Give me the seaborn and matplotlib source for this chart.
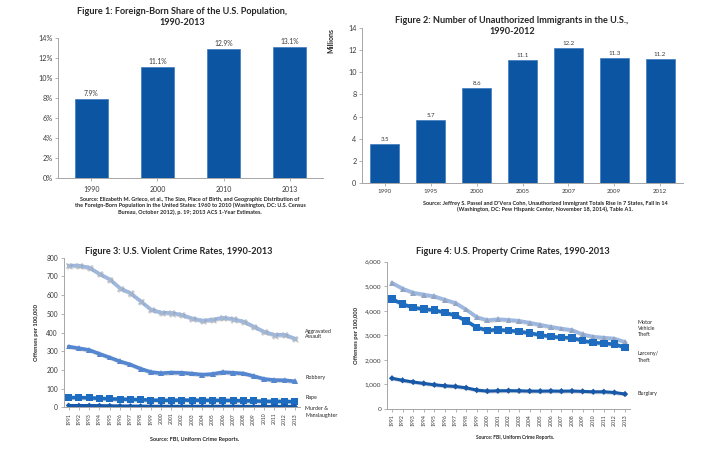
import numpy as np
import pandas as pd
import matplotlib
matplotlib.use("Agg")
import matplotlib.pyplot as plt
import matplotlib.patheffects as pe
from matplotlib.ticker import FuncFormatter, MultipleLocator
import seaborn as sns

# ---------------- data ----------------
fb_years = ["1990", "2000", "2010", "2013"]
fb_share = [7.9, 11.1, 12.9, 13.1]

ui_years = ["1990", "1995", "2000", "2005", "2007", "2009", "2012"]
ui_millions = [3.5, 5.7, 8.6, 11.1, 12.2, 11.3, 11.2]

crime_years = list(range(1991, 2014))
# Figure 3 (lines as plotted, cumulative)
aggravated = [758.2, 757.7, 747.1, 713.6, 684.5, 636.6, 611.0, 567.6, 523.0, 506.5, 504.5, 494.4,
              475.8, 463.2, 469.0, 479.3, 471.8, 458.6, 431.9, 404.5, 387.1, 387.8, 367.9]
robbery = [324.8, 315.8, 306.6, 286.1, 266.2, 245.6, 228.9, 206.3, 188.6, 182.5, 185.9, 184.8,
           180.5, 174.6, 178.2, 188.0, 184.6, 181.1, 167.2, 151.8, 145.6, 144.9, 138.8]
rape = [52.1, 52.1, 50.6, 48.3, 45.3, 43.7, 42.7, 40.8, 38.5, 37.5, 37.4, 38.7,
        38.0, 37.9, 37.4, 37.4, 36.3, 35.2, 34.1, 32.5, 31.7, 31.8, 29.7]
murder = [9.8, 9.3, 9.5, 9.0, 8.2, 7.4, 6.8, 6.3, 5.7, 5.5, 5.6, 5.6,
          5.7, 5.5, 5.6, 5.8, 5.7, 5.4, 5.0, 4.8, 4.7, 4.7, 4.5]
# Figure 4 (lines as plotted, cumulative)
motor_vehicle = [5140, 4904, 4740, 4660, 4591, 4451, 4316, 4053, 3744, 3618, 3658, 3631,
                 3591, 3514, 3432, 3347, 3276, 3215, 3041, 2946, 2905, 2868, 2731]
larceny = [4481, 4272, 4134, 4069, 4030, 3925, 3811, 3593, 3321, 3206, 3228, 3198,
           3158, 3093, 3015, 2954, 2912, 2899, 2782, 2707, 2676, 2638, 2509]
burglary = [1252, 1168, 1100, 1042, 987, 945, 919, 863, 770, 729, 742, 747,
            741, 730, 727, 733, 726, 733, 718, 701, 702, 672, 610]

# ---------------- style ----------------
sns.set_theme(style="white")
plt.rcParams["font.family"] = ["Lato", "DejaVu Sans"]
TXT = "#262626"
TICK = "#3A3A3A"
SPINE = "#A6A6A6"
BAR = "#0B55A2"

W, H = 721, 451
fig = plt.figure(figsize=(W / 100, H / 100), dpi=100)
fig.patch.set_facecolor("white")


def box(l, t, r, b):
    return [l / W, 1 - b / H, (r - l) / W, (b - t) / H]


def ftext(x, y, s, **kw):
    fig.text(x / W, 1 - y / H, s, **kw)


def style_axes(ax, ysize, xsize):
    sns.despine(ax=ax)
    for sp in ("left", "bottom"):
        ax.spines[sp].set_color(SPINE)
        ax.spines[sp].set_linewidth(0.7)
    ax.tick_params(axis="both", which="both", length=2, width=0.6, color=SPINE,
                   colors=TICK, pad=2)
    ax.tick_params(axis="y", labelsize=ysize, left=True)
    ax.tick_params(axis="x", labelsize=xsize, bottom=True)
    ax.grid(False)


TITLE = 6.6
SRC = 4.0

# ---------- Figure 1 ----------
ax1 = fig.add_axes(box(58, 37.7, 323, 177.7))
df1 = pd.DataFrame({"year": fb_years, "share": fb_share})
sns.barplot(data=df1, x="year", y="share", color=BAR, width=0.5, ax=ax1,
            saturation=1, edgecolor="#3C79BD", linewidth=0.5)
ax1.set_ylim(0, 14)
ax1.set_xlim(-0.5, 3.5)
ax1.yaxis.set_major_locator(MultipleLocator(2))
ax1.yaxis.set_major_formatter(FuncFormatter(lambda v, p: f"{v:.0f}%"))
ax1.set_xlabel("")
ax1.set_ylabel("")
style_axes(ax1, 5.2, 5.0)
ax1.tick_params(axis="x", pad=4)
ax1.bar_label(ax1.containers[0], fmt="%.1f%%", fontsize=4.9, color=TICK, padding=1.5)
ftext(182, 17, "Figure 1: Foreign-Born Share of the U.S. Population,\n1990-2013",
      ha="center", va="center", fontsize=TITLE, fontweight="bold", color=TXT, linespacing=1.2)
ftext(190, 206, "Source: Elizabeth M. Grieco, et al., The Size, Place of Birth, and Geographic Distribution of\n"
      "the Foreign-Born Population in the United States: 1960 to 2010 (Washington, DC: U.S. Census\n"
      "Bureau, October 2012), p. 19; 2013 ACS 1-Year Estimates.",
      ha="center", va="center", fontsize=SRC, fontweight="bold", color=TXT, linespacing=1.2)

# ---------- Figure 2 ----------
ax2 = fig.add_axes(box(362, 28, 683, 183))
df2 = pd.DataFrame({"year": ui_years, "millions": ui_millions})
sns.barplot(data=df2, x="year", y="millions", color=BAR, width=0.63, ax=ax2,
            saturation=1, edgecolor="#3C79BD", linewidth=0.5)
ax2.set_ylim(0, 14)
ax2.set_xlim(-0.5, 6.5)
ax2.yaxis.set_major_locator(MultipleLocator(2))
ax2.set_xlabel("")
ax2.set_ylabel("Millions", loc="top", fontsize=5.0, fontweight="bold", color=TXT, labelpad=10)
style_axes(ax2, 5.2, 4.4)
ax2.bar_label(ax2.containers[0], fmt="%.1f", fontsize=4.4, color=TICK, padding=1.5)
ftext(512, 26, "Figure 2: Number of Unauthorized Immigrants in the U.S.,\n1990-2012",
      ha="center", va="center", fontsize=TITLE, fontweight="bold", color=TXT, linespacing=1.2)
ftext(545, 206.5, "Source: Jeffrey S. Passel and D'Vera Cohn, Unauthorized Immigrant Totals Rise in 7 States, Fall in 14\n"
      "(Washington, DC: Pew Hispanic Center, November 18, 2014), Table A1.",
      ha="center", va="center", fontsize=SRC, fontweight="bold", color=TXT, linespacing=1.2)

shadow = [pe.SimpleLineShadow(offset=(0.7, -0.7), shadow_color="#808080", alpha=0.35), pe.Normal()]


def crime_line(ax, values, color, marker, ms, mcolor=None, lw=2.6):
    d = pd.DataFrame({"year": crime_years, "v": values})
    sns.lineplot(data=d, x="year", y="v", ax=ax, color=color, lw=lw, marker=marker,
                 markersize=ms, markeredgewidth=1.0 if marker == "x" else 0,
                 markerfacecolor=mcolor or color, markeredgecolor=mcolor or color,
                 path_effects=shadow)


# ---------- Figure 3 ----------
ax3 = fig.add_axes(box(63.5, 257.7, 300, 407.3))
crime_line(ax3, aggravated, "#9DB8E0", "x", 3.8, mcolor="#A9B8CF")
crime_line(ax3, robbery, "#5587D0", "^", 4.2)
crime_line(ax3, rape, "#1E6CC0", "s", 5.0)
crime_line(ax3, murder, "#1858A8", "D", 3.0, lw=2.2)
ax3.set_xlim(1990.5, 2013.5)
ax3.set_ylim(0, 800)
ax3.yaxis.set_major_locator(MultipleLocator(100))
ax3.set_xticks(crime_years)
ax3.set_xticklabels([str(y) for y in crime_years], rotation=90)
ax3.set_xlabel("")
ax3.set_ylabel("Offenses per 100,000", fontsize=4.2, fontweight="bold", color=TXT, labelpad=5)
style_axes(ax3, 4.8, 3.7)
ftext(179, 251, "Figure 3: U.S. Violent Crime Rates, 1990-2013",
      ha="center", va="center", fontsize=TITLE, fontweight="bold", color=TXT)
for y, s in [(334, "Aggravated\nAssault"), (378, "Robbery"), (398, "Rape"), (412, "Murder &\nManslaughter")]:
    ftext(305, y, s, ha="left", va="center", fontsize=3.9, color=TXT, linespacing=1.25)
ftext(195, 439, "Source: FBI, Uniform Crime Reports.",
      ha="center", va="center", fontsize=SRC, fontweight="bold", color=TXT)

# ---------- Figure 4 ----------
ax4 = fig.add_axes(box(386.7, 261.7, 630.3, 409))
crime_line(ax4, motor_vehicle, "#9DB8E0", "^", 4.2, mcolor="#93A5C4")
crime_line(ax4, larceny, "#1E6CC0", "s", 5.4)
crime_line(ax4, burglary, "#1858A8", "D", 3.2, lw=2.2)
ax4.set_xlim(1990.5, 2013.5)
ax4.set_ylim(0, 6000)
ax4.yaxis.set_major_locator(MultipleLocator(1000))
ax4.yaxis.set_major_formatter(FuncFormatter(lambda v, p: f"{v:,.0f}"))
ax4.set_xticks(crime_years)
ax4.set_xticklabels([str(y) for y in crime_years], rotation=90)
ax4.set_xlabel("")
ax4.set_ylabel("Offenses per 100,000", fontsize=4.2, fontweight="bold", color=TXT, labelpad=4)
style_axes(ax4, 4.6, 3.7)
ftext(513, 251, "Figure 4: U.S. Property Crime Rates, 1990-2013",
      ha="center", va="center", fontsize=TITLE, fontweight="bold", color=TXT)
for y, s in [(328, "Motor\nVehicle\nTheft"), (357, "Larceny/\nTheft"), (394, "Burglary")]:
    ftext(638, y, s, ha="left", va="center", fontsize=3.9, color=TXT, linespacing=1.25)
ftext(515, 438, "Source: FBI, Uniform Crime Reports.",
      ha="center", va="center", fontsize=3.5, fontweight="bold", color=TXT)

fig.savefig("out.png", dpi=100, facecolor="white")
